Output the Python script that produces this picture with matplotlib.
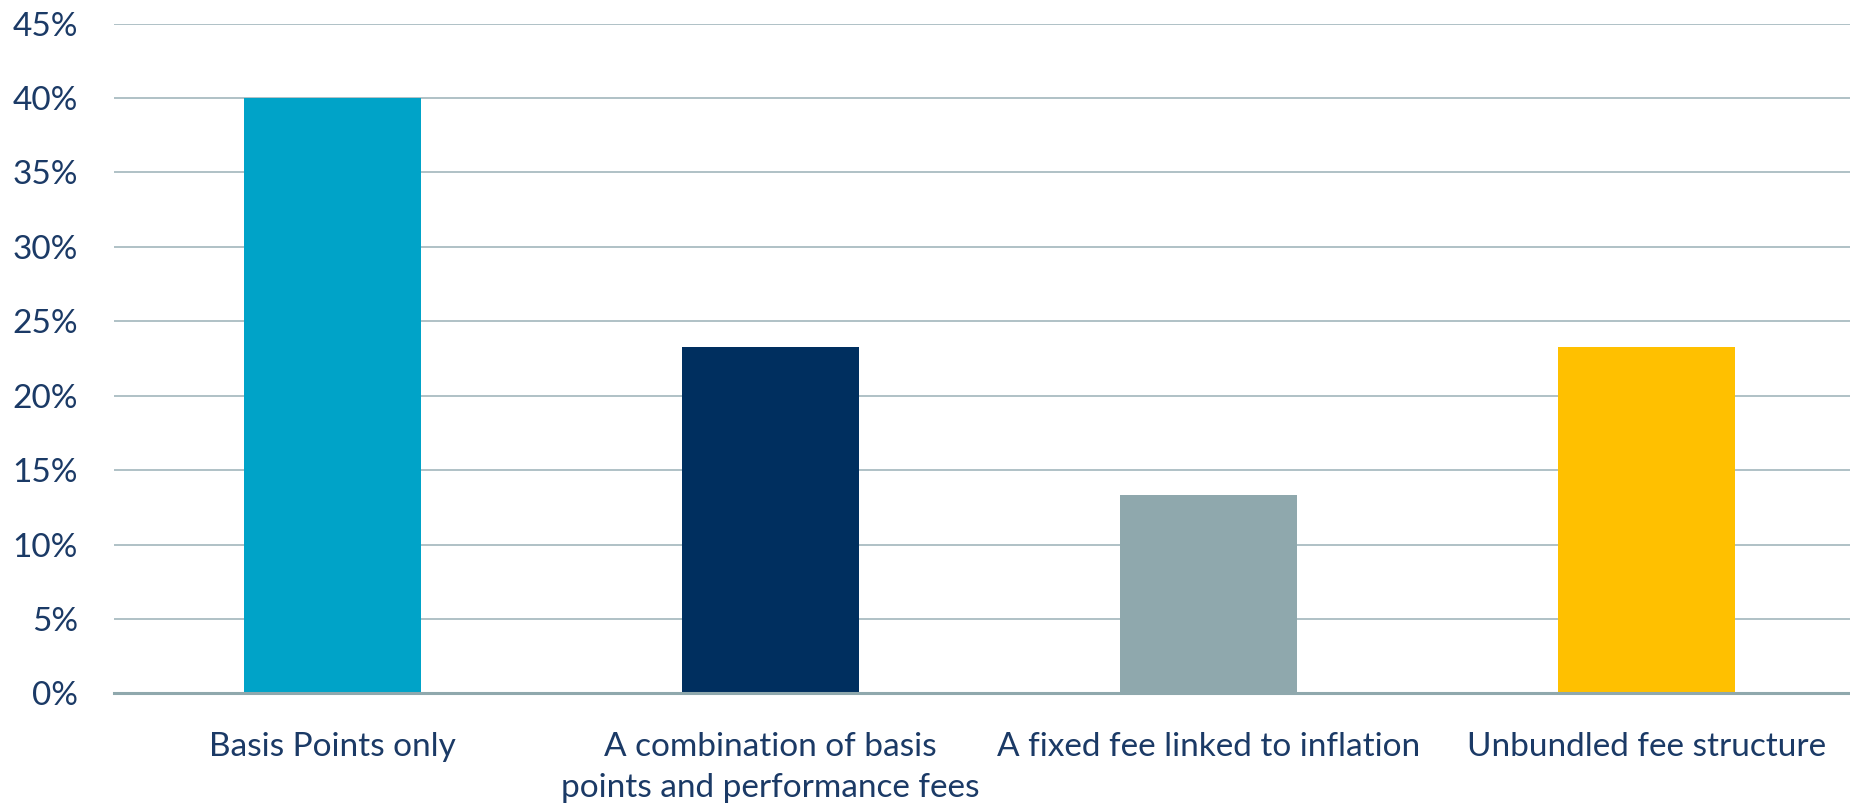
import matplotlib.pyplot as plt
from matplotlib.ticker import MultipleLocator, FuncFormatter

# Chart data
categories = ['Basis Points only',
              'A combination of basis\npoints and performance fees',
              'A fixed fee linked to inflation',
              'Unbundled fee structure']
shares = [40.0, 23.3, 13.3, 23.3]
barColors = ['#00A3C8', '#002F5F', '#8FA8AD', '#FFC000']

textColor = '#1B3A66'
gridColor = '#A9BCC2'

plt.rcParams['font.family'] = ['Lato', 'DejaVu Sans']

fig = plt.figure(figsize=(18.5, 8.06), dpi=100)
ax = fig.add_axes([0.0616, 0.1396, 0.9384, 0.8312])

xPos = range(len(categories))
ax.bar(xPos, shares, width=0.404, color=barColors, zorder=3)

ax.set_xlim(-0.5, len(categories) - 0.535)
ax.set_ylim(0, 45)
ax.yaxis.set_major_locator(MultipleLocator(5))
ax.yaxis.set_major_formatter(FuncFormatter(lambda v, p: f'{v:.0f}%'))
ax.grid(axis='y', color=gridColor, linewidth=1.3, zorder=0)

ax.set_xticks(list(xPos))
ax.set_xticklabels(categories, multialignment='center', linespacing=1.45)

for spine in ['top', 'right', 'left']:
    ax.spines[spine].set_visible(False)
ax.spines['bottom'].set_color('#8FA8AD')
ax.spines['bottom'].set_linewidth(2.2)
ax.spines['bottom'].set_zorder(4)

ax.tick_params(axis='both', length=0, labelsize=24, labelcolor=textColor)
ax.tick_params(axis='y', pad=26)
ax.tick_params(axis='x', pad=28)

fig.savefig('out.png', dpi=100)
